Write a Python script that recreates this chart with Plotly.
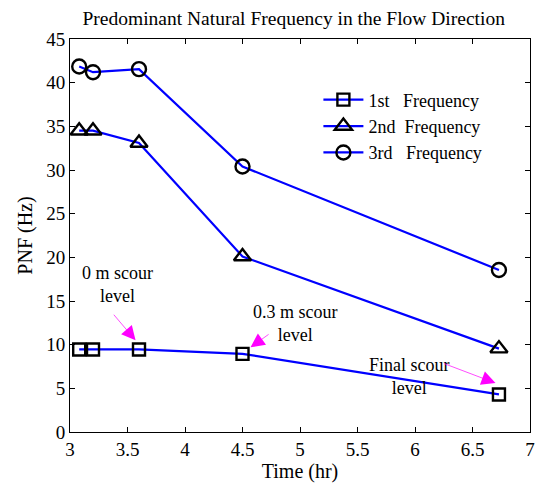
import plotly.graph_objects as go

# Measurement times (hr) and predominant natural frequencies (Hz)
time_hr = [3.08, 3.2, 3.6, 4.5, 6.73]
freq_1st = [9.45, 9.45, 9.45, 8.95, 4.3]
freq_2nd = [34.5, 34.5, 33.1, 20.1, 9.55]
freq_3rd = [41.85, 41.2, 41.55, 30.4, 18.55]

series_names = ["1st   Frequency", "2nd  Frequency", "3rd   Frequency"]
x_ticks = [3, 3.5, 4, 4.5, 5, 5.5, 6, 6.5, 7]
x_tick_text = ["3", "3.5", "4", "4.5", "5", "5.5", "6", "6.5", "7"]
y_ticks = [0, 5, 10, 15, 20, 25, 30, 35, 40, 45]

FONT = "Liberation Serif"
BLUE = "#0000FF"
MAGENTA = "#FF00FF"

fig = go.Figure()
symbols = ["square-open", "triangle-up-open", "circle-open"]
sizes = [12, 15, 14]
for name, vals, sym, sz in zip(series_names, [freq_1st, freq_2nd, freq_3rd], symbols, sizes):
    fig.add_trace(go.Scatter(
        x=time_hr, y=vals, name=name, mode="lines+markers",
        line=dict(color=BLUE, width=2.2),
        marker=dict(symbol=sym, size=sz, color="black", line=dict(color="black", width=2.4)),
        cliponaxis=False,
    ))

# Scour level labels and arrows
labels = [
    dict(text="0 m scour<br>level", x=3.41, y=16.9, tail=(3.37, 13.6), head=(3.57, 10.5)),
    dict(text="0.3 m scour<br>level", x=4.96, y=12.4, tail=(4.74, 11.3), head=(4.57, 9.7)),
    dict(text="Final scour<br>level", x=5.95, y=6.3, tail=(6.24, 7.9), head=(6.70, 5.6)),
]
for lb in labels:
    fig.add_annotation(x=lb["x"], y=lb["y"], text=lb["text"], showarrow=False,
                       font=dict(family=FONT, size=18, color="black"), align="center")
    fig.add_annotation(x=lb["head"][0], y=lb["head"][1], ax=lb["tail"][0], ay=lb["tail"][1],
                       axref="x", ayref="y", xref="x", yref="y", text="",
                       showarrow=True, arrowhead=2, arrowsize=4, arrowwidth=0.7,
                       arrowcolor=MAGENTA)

axis_common = dict(
    showline=True, linecolor="black", linewidth=1, mirror="ticks",
    ticks="inside", ticklen=5, tickcolor="black", showgrid=False, zeroline=False,
    tickfont=dict(family=FONT, size=19, color="black"), automargin=False,
)
fig.update_xaxes(range=[3, 7], tickvals=x_ticks, ticktext=x_tick_text,
                 title=dict(text="Time (hr)", font=dict(family=FONT, size=20, color="black"), standoff=4),
                 **axis_common)
fig.update_yaxes(range=[0, 45], tickvals=y_ticks,
                 title=dict(text="PNF (Hz)", font=dict(family=FONT, size=20, color="black"), standoff=8),
                 **axis_common)

fig.update_layout(
    width=536, height=485,
    margin=dict(l=70, r=6, t=39, b=53),
    paper_bgcolor="white", plot_bgcolor="white",
    title=dict(text="Predominant Natural Frequency in the Flow Direction",
               font=dict(family=FONT, size=19.5, color="black"),
               x=0.548, xanchor="center", y=0.962, yanchor="middle"),
    legend=dict(x=0.54, y=0.892, xanchor="left", yanchor="top",
                bgcolor="rgba(0,0,0,0)", borderwidth=0,
                font=dict(family=FONT, size=18, color="black"),
                itemwidth=40, tracegroupgap=0),
    showlegend=True,
)

fig.write_html("out.html")
